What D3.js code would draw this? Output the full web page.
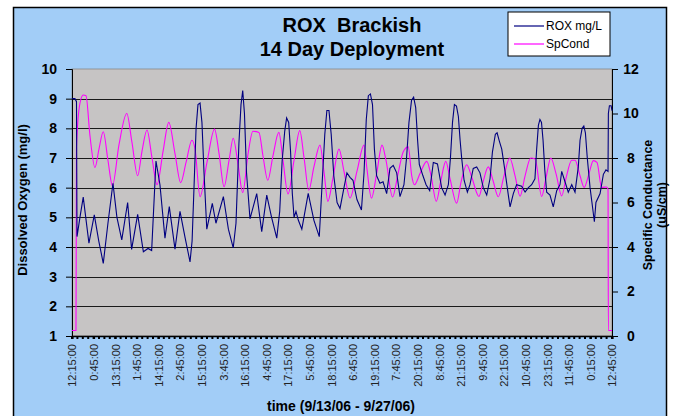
<!DOCTYPE html>
<html>
<head>
<meta charset="utf-8">
<title>ROX Brackish</title>
<script src="https://d3js.org/d3.v7.min.js"></script>
<style>
  body { margin: 0; background: #fff; }
  text { font-family: Arial, "Liberation Sans", sans-serif; }
</style>
</head>
<body>
<script>
// hours since 9/13/06 12:15 ; dissolved oxygen (mg/l)
var doTime = [0, 1.7, 2.6, 2.9, 4.6, 6.5, 9.8, 12.9, 15.5, 18.1,
  20.8, 23.7, 26.0, 28.8, 32.2, 34.5, 38.0, 41.3, 44.0, 46.1,
  48.6, 50.9, 53.8, 56.3, 59.6, 62.5, 65.5, 68.3, 69.5, 70.6,
  71.8, 72.9, 74.1, 75.2, 76.4, 78.0, 81.2, 83.3, 87.6, 90.5,
  93.3, 94.9, 96.6, 97.8, 98.8, 99.8, 101.0, 103.0, 106.9, 109.8,
  112.7, 115.5, 118.5, 120.2, 121.6, 123.1, 124.2, 125.4, 126.5, 127.5,
  128.5, 129.6, 131.0, 133.0, 136.7, 140.0, 143.1, 144.8, 146.3, 147.5,
  148.7, 150.0, 151.5, 153.4, 155.1, 157.4, 159.1, 160.9, 162.6, 164.9,
  167.5, 169.0, 170.3, 171.5, 172.7, 173.9, 175.0, 176.3, 178.2, 180.0,
  182.1, 184.0, 185.9, 187.9, 189.8, 192.1, 193.6, 195.0, 196.5, 197.7,
  198.9, 200.0, 201.0, 203.1, 204.9, 207.0, 209.1, 211.5, 213.9, 215.9,
  217.8, 219.0, 220.2, 221.3, 222.5, 223.6, 224.6, 225.5, 226.9, 228.8,
  230.3, 232.2, 234.2, 236.1, 238.0, 240.0, 241.9, 243.3, 245.0, 246.0,
  247.3, 248.7, 250.6, 252.5, 253.5, 255.4, 257.3, 260.2, 262.2, 264.1,
  266.0, 267.9, 268.9, 269.9, 270.8, 271.7, 272.6, 273.6, 274.7, 276.6,
  278.5, 280.5, 282.4, 283.4, 285.3, 287.2, 289.2, 291.1, 293.0, 294.0,
  295.2, 296.2, 297.1, 298.2, 299.8, 300.9, 302.3, 303.2, 305.6, 307.5,
  309.0, 310.2, 310.4, 311.0, 312.0, 312.5];
var doValue = [9.0, 9.0, 8.9, 4.35, 5.0, 5.68, 4.13, 5.08, 4.2, 3.45,
  4.8, 6.15, 5.0, 4.24, 5.5, 3.92, 5.1, 3.84, 3.95, 3.88,
  6.9, 6.1, 4.3, 5.36, 3.93, 5.2, 4.3, 3.5, 4.2, 6.0,
  8.0, 8.8, 8.85, 8.2, 6.5, 4.6, 5.47, 4.8, 5.7, 4.6,
  3.97, 4.8, 7.5, 8.8, 9.27, 8.5, 6.5, 4.95, 5.8, 4.52,
  5.75, 5.0, 4.3, 5.2, 6.9, 7.9, 8.35, 8.2, 7.2, 5.8,
  5.0, 5.2, 4.9, 4.6, 5.81, 4.9, 4.35, 6.2, 7.8, 8.6,
  8.6, 7.8, 6.4, 5.5, 5.3, 6.0, 6.5, 6.35, 6.25, 5.6,
  5.25, 6.5, 8.3, 9.1, 9.16, 8.8, 7.3, 6.4, 6.15, 6.2,
  5.8, 6.65, 6.75, 6.5, 5.7, 6.1, 7.0, 8.2, 8.95, 9.05,
  8.7, 7.6, 6.78, 6.4, 6.1, 5.9, 6.85, 6.8, 6.0, 5.75,
  6.1, 7.0, 8.2, 8.8, 8.75, 8.4, 7.6, 7.0, 6.25, 5.85,
  6.1, 6.65, 6.7, 6.5, 6.0, 5.75, 6.3, 7.2, 7.8, 7.85,
  7.57, 7.3, 6.55, 5.75, 5.35, 5.8, 6.1, 6.05, 5.85, 6.0,
  6.1, 6.3, 7.3, 8.1, 8.3, 8.2, 7.6, 6.6, 5.85, 5.75,
  5.35, 5.9, 6.1, 6.55, 6.2, 5.85, 6.1, 5.85, 6.7, 7.6,
  8.0, 8.08, 7.85, 7.0, 6.0, 5.5, 4.85, 5.5, 5.8, 6.45,
  6.6, 6.55, 8.5, 8.76, 8.76, 8.6];

// specific conductance (uS/cm)
var spTime = [0, 2.3, 2.6, 4.6, 6.5, 8.1, 10.4, 13.3, 15.6, 18.1,
  20.8, 23.4, 27.2, 31.7, 34.7, 38.0, 40.5, 43.4, 46.3, 49.2,
  52.7, 56.0, 59.6, 62.9, 66.0, 69.4, 71.2, 74.1, 78.1, 82.5,
  85.1, 88.0, 90.9, 93.3, 96.1, 98.8, 101.9, 104.7, 108.2, 110.5,
  113.3, 116.3, 119.7, 122.1, 125.0, 128.5, 131.8, 134.3, 137.0, 140.0,
  143.5, 145.8, 148.1, 151.0, 154.5, 157.4, 160.9, 164.9, 169.0, 170.7,
  173.3, 176.5, 179.4, 181.7, 185.5, 188.7, 191.7, 194.6, 196.6, 198.2,
  201.4, 205.3, 207.8, 210.8, 213.5, 216.3, 218.7, 222.6, 225.1, 228.4,
  231.5, 235.5, 237.8, 240.9, 243.6, 246.7, 250.0, 253.3, 256.4, 259.3,
  262.2, 265.5, 268.0, 271.8, 274.3, 277.1, 280.1, 283.4, 285.9, 289.2,
  291.1, 294.0, 296.4, 299.2, 301.7, 303.8, 306.5, 309.4, 310.2, 310.4,
  312.5];
var spValue = [0.25, 0.25, 8.5, 10.46, 10.83, 10.8, 9.0, 7.57, 8.4, 9.18,
  7.9, 6.75, 8.6, 10.0, 8.7, 7.2, 8.3, 9.26, 8.0, 6.8,
  8.3, 9.6, 8.2, 6.89, 7.8, 8.8, 8.4, 6.26, 7.8, 9.3,
  8.2, 6.71, 7.9, 8.89, 7.7, 6.45, 8.2, 9.2, 9.15, 8.1,
  7.0, 8.1, 9.15, 7.9, 6.38, 7.9, 9.23, 8.0, 6.55, 7.6,
  8.58, 7.4, 6.05, 7.1, 8.4, 7.4, 6.2, 7.4, 8.58, 7.5,
  6.2, 7.4, 8.58, 7.9, 6.25, 7.3, 8.28, 8.5, 7.2, 6.8,
  7.3, 7.85, 7.2, 6.05, 7.0, 7.85, 7.1, 5.97, 6.9, 7.7,
  7.1, 6.27, 6.9, 7.6, 7.0, 6.26, 7.2, 8.0, 7.2, 6.28,
  7.2, 8.0, 7.95, 6.27, 7.1, 8.0, 7.3, 6.3, 7.1, 7.9,
  7.9, 7.2, 6.68, 7.3, 7.88, 7.8, 6.68, 6.7, 6.6, 0.25,
  0.25];

var tickLabels = ["12:15:00", "0:45:00", "13:15:00", "1:45:00", "14:15:00", "2:45:00",
  "15:15:00", "3:45:00", "16:15:00", "4:45:00", "17:15:00", "5:45:00", "18:15:00",
  "6:45:00", "19:15:00", "7:45:00", "20:15:00", "8:45:00", "21:15:00", "9:45:00",
  "22:15:00", "10:45:00", "23:15:00", "11:45:00", "0:15:00", "12:45:00"];
var labelStep = 12.5;   // hours between labels
var leftTicks = [1, 2, 3, 4, 5, 6, 7, 8, 9, 10];
var rightTicks = [0, 2, 4, 6, 8, 10, 12];
var seriesNames = ["ROX mg/L", "SpCond"];
var seriesColors = ["#000080", "#ff00ff"];

var W = 675, H = 416;
var pLeft = 72, pRight = 612, pTop = 69, pBottom = 336;
var FONT = "Arial, 'Liberation Sans', sans-serif";

var svg = d3.select("body").append("svg")
  .attr("width", W).attr("height", H);

// chart background
svg.append("rect").attr("x", 13.5).attr("y", 7.5).attr("width", 653).attr("height", 420)
  .attr("fill", "#a2cdf7").attr("stroke", "#000").attr("stroke-width", 1.5);

var x = d3.scaleLinear().domain([0, 312.5]).range([pLeft, pRight]);
var yL = d3.scaleLinear().domain([1, 10]).range([pBottom, pTop]);
var yR = d3.scaleLinear().domain([0, 12]).range([pBottom, pTop]);

// plot area
svg.append("rect").attr("x", pLeft).attr("y", pTop)
  .attr("width", pRight - pLeft).attr("height", pBottom - pTop)
  .attr("fill", "#c6c4c4").attr("stroke", "#888").attr("stroke-width", 0.8);

// grid
svg.append("g").selectAll("line")
  .data(leftTicks.filter(function(d){ return d > 1 && d < 10; }))
  .enter().append("line")
  .attr("x1", pLeft).attr("x2", pRight)
  .attr("y1", function(d){ return Math.round(yL(d)) + 0.5; })
  .attr("y2", function(d){ return Math.round(yL(d)) + 0.5; })
  .attr("stroke", "#1a1a1a").attr("stroke-width", 1);

// left axis
var gL = svg.append("g").attr("transform", "translate(" + pLeft + ",0)")
  .call(d3.axisLeft(yL).tickValues(leftTicks).tickSize(6).tickPadding(9));
gL.selectAll("text").attr("font-size", "14px").attr("font-weight", "bold")
  .attr("fill", "#000").style("font-family", FONT);
gL.selectAll("line, path").attr("stroke", "#000");

// right axis
var gR = svg.append("g").attr("transform", "translate(" + pRight + ",0)")
  .call(d3.axisRight(yR).tickValues(rightTicks).tickSize(6));
gR.selectAll("text").attr("font-size", "14px").attr("font-weight", "bold")
  .attr("fill", "#000").attr("x", 19).attr("text-anchor", "middle")
  .style("font-family", FONT);
gR.selectAll("line, path").attr("stroke", "#000");

// bottom axis
var gB = svg.append("g").attr("transform", "translate(0," + pBottom + ")")
  .call(d3.axisBottom(x).tickValues(d3.range(tickLabels.length).map(function(i){ return i * labelStep; }))
    .tickFormat(function(d, i){ return tickLabels[i]; }).tickSize(3));
gB.select(".domain").attr("stroke", "#000").attr("stroke-width", 1.5);
gB.selectAll("line").attr("stroke", "#000").attr("stroke-width", 2);
gB.selectAll("text")
  .attr("transform", "rotate(-90)")
  .attr("x", -8).attr("y", 0).attr("dy", "0.35em")
  .attr("text-anchor", "end")
  .attr("font-size", "11px").attr("fill", "#222")
  .style("font-family", FONT);

// minor ticks along the time axis
svg.append("g").selectAll("line")
  .data(d3.range(0, 312.5 + 0.01, labelStep / 4))
  .enter().append("line")
  .attr("x1", function(d){ return x(d); }).attr("x2", function(d){ return x(d); })
  .attr("y1", pBottom).attr("y2", pBottom + 3)
  .attr("stroke", "#000").attr("stroke-width", 2);

// series
var lineDO = d3.line()
  .x(function(d){ return x(doTime[d]); })
  .y(function(d){ return yL(doValue[d]); });
var lineSP = d3.line()
  .x(function(d){ return x(spTime[d]); })
  .y(function(d){ return yR(spValue[d]); })
  .curve(d3.curveMonotoneX);

svg.append("path").datum(d3.range(spTime.length)).attr("d", lineSP)
  .attr("fill", "none").attr("stroke", seriesColors[1]).attr("stroke-width", 1.1);
svg.append("path").datum(d3.range(doTime.length)).attr("d", lineDO)
  .attr("fill", "none").attr("stroke", seriesColors[0]).attr("stroke-width", 1.1);

// titles
svg.append("text").attr("x", 352).attr("y", 32).attr("text-anchor", "middle")
  .attr("font-size", "20px").attr("font-weight", "bold").style("white-space", "pre")
  .text("ROX  Brackish");
svg.append("text").attr("x", 352).attr("y", 56).attr("text-anchor", "middle")
  .attr("font-size", "20px").attr("font-weight", "bold")
  .text("14 Day Deployment");

svg.append("text").attr("transform", "translate(27,200) rotate(-90)")
  .attr("text-anchor", "middle").attr("font-size", "13px").attr("font-weight", "bold")
  .text("Dissolved Oxygen (mg/l)");
svg.append("text").attr("transform", "translate(652,205) rotate(-90)")
  .attr("text-anchor", "middle").attr("font-size", "12.5px").attr("font-weight", "bold")
  .text("Specific Conductance");
svg.append("text").attr("transform", "translate(666,205) rotate(-90)")
  .attr("text-anchor", "middle").attr("font-size", "12.5px").attr("font-weight", "bold")
  .text("(uS/cm)");

svg.append("text").attr("x", 341).attr("y", 411).attr("text-anchor", "middle")
  .attr("font-size", "14px").attr("font-weight", "bold")
  .text("time (9/13/06 - 9/27/06)");

// legend
var lg = svg.append("g").attr("transform", "translate(508,12)");
lg.append("rect").attr("width", 102).attr("height", 44)
  .attr("fill", "#fff").attr("stroke", "#000").attr("stroke-width", 1);
seriesNames.forEach(function(name, i){
  var yy = 14 + i * 18;
  lg.append("line").attr("x1", 6).attr("x2", 36).attr("y1", yy).attr("y2", yy)
    .attr("stroke", seriesColors[i]).attr("stroke-width", 1.2);
  lg.append("text").attr("x", 38).attr("y", yy + 4).attr("font-size", "12px")
    .text(name);
});
</script>
</body>
</html>
